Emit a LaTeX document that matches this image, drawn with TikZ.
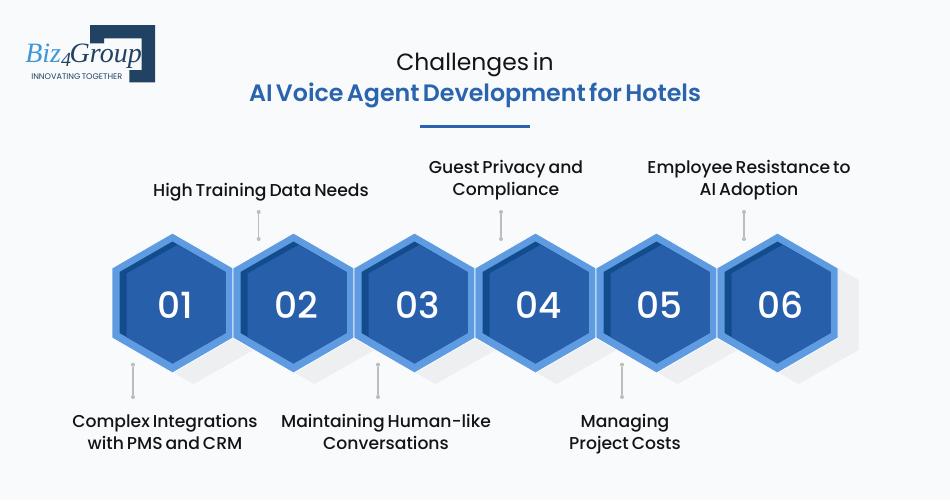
\documentclass[tikz,border=0pt]{standalone}
\usepackage{fontspec}
\setmainfont{Poppins}[WordSpace=0.6]
\newfontfamily\medfont{Poppins Medium}[WordSpace=0.65]
\newfontfamily\semifont{Poppins SemiBold}[WordSpace=0.6]
\newfontfamily\logofont{Liberation Serif}
\definecolor{bgc}{HTML}{F8FAFC}
\definecolor{hexout}{HTML}{5F9BE0}
\definecolor{hexdark}{HTML}{124C8C}
\definecolor{hexmain}{HTML}{285FAB}
\definecolor{shadowc}{HTML}{EEEFF1}
\definecolor{leader}{HTML}{BDBDBD}
\definecolor{inkc}{HTML}{141414}
\definecolor{titleblue}{HTML}{2A63AE}
\definecolor{logonavy}{HTML}{214262}
\definecolor{logoblue}{HTML}{3F97D6}
\tikzset{
  x=0.75pt,y=-0.75pt,
  lbl/.style={font=\medfont\fontsize{12.9pt}{16.5pt}\selectfont,text=inkc,align=center,inner sep=0pt},
  numlbl/.style={font=\medfont\fontsize{27pt}{30pt}\selectfont,text=white,inner sep=0pt},
  leadline/.style={draw=leader,line width=0.9pt},
  dotc/.style={circle,fill=leader,minimum size=3pt,inner sep=0pt}
}
\newcommand{\hexshadow}[1]{\fill[shadowc] (#1+21,245) -- (#1+81,280) -- (#1+81,350) -- (#1+21,384) -- (#1-39,350) -- (#1-39,280) -- cycle;}
\newcommand{\hexbody}[2]{%
  \fill[hexout,draw=white,line width=0.6pt] (#1,233) -- (#1+60.5,268) -- (#1+60.5,338) -- (#1,373) -- (#1-60.5,338) -- (#1-60.5,268) -- cycle;
  \fill[hexdark] (#1,241.5) -- (#1+53,272) -- (#1+53,333) -- (#1,363.5) -- (#1-53,333) -- (#1-53,272) -- cycle;
  \fill[hexmain] (#1+5,245) -- (#1+53,272) -- (#1+53,333) -- (#1,363.5) -- (#1-46,337) -- (#1-46,273.5) -- cycle;
  \node[numlbl] (n#2) at (#1+3,305) {0#2};
}
\begin{document}
\begin{tikzpicture}
\useasboundingbox (0,0) rectangle (950,500);
\fill[bgc] (0,0) rectangle (950,500);
% logo
\fill[logonavy] (90,25) -- (155,25) -- (155,82.3) -- (129.3,82.3) -- (129.3,70) -- (141.7,70) -- (141.7,38.3) -- (104,38.3) -- (104,43.3) -- (90,43.3) -- cycle;
\node[anchor=base west,inner sep=0pt,font=\logofont\itshape\fontsize{21pt}{24pt}\selectfont] (logo) at (25,62) {\textcolor{logoblue}{Biz}\makebox[6.5pt][l]{\raisebox{-3.5pt}{\textcolor{logonavy}{\fontsize{15pt}{15pt}\selectfont 4}}}\textcolor{logonavy}{Group}};
\node[anchor=base west,inner sep=0pt,font=\fontsize{6.1pt}{8pt}\selectfont,text=logonavy] (tag) at (31,79.5) {INNOVATING TOGETHER};
% title
\node[font=\fontsize{17.6pt}{24pt}\selectfont,text=inkc,inner sep=0pt] (t1) at (475,65) {Challenges in};
\node[font=\semifont\fontsize{17.8pt}{24pt}\selectfont,text=titleblue,inner sep=0pt] (t2) at (475,95) {AI Voice Agent Development for Hotels};
\coordinate (ruleA) at (420,126.5);
\coordinate (ruleB) at (530,126.5);
\draw[titleblue,line width=1.7pt] (ruleA) -- (ruleB);
% shadows
\foreach \cx in {172.5,293.5,414.5,535.5,656.5,777.5} {\hexshadow{\cx}}
% hexes
\hexbody{172.5}{1}
\hexbody{293.5}{2}
\hexbody{414.5}{3}
\hexbody{535.5}{4}
\hexbody{656.5}{5}
\hexbody{777.5}{6}
% labels
\node[lbl] (l1) at (165,432) {Complex Integrations\\with PMS and CRM};
\node[lbl] (l2) at (261,192) {High Training Data Needs};
\node[lbl] (l3) at (386,432) {Maintaining Human-like\\Conversations};
\node[lbl] (l4) at (506,180.5) {Guest Privacy and\\Compliance};
\node[lbl] (l5) at (625,434) {Managing\\Project Costs};
\node[lbl] (l6) at (749,180.5) {Employee Resistance to\\AI Adoption};
% leaders
\foreach \nm/\lx/\ya/\yb in {a/133/364.7/397,c/378/364.7/397,e/622/364.7/397,b/258.7/212/239,d/501/212/239,f/744/212/239} {
  \node[dotc] (p\nm) at (\lx,\ya) {};
  \node[dotc] (q\nm) at (\lx,\yb) {};
  \draw[leadline] (p\nm) -- (q\nm);
}
\end{tikzpicture}
\end{document}
